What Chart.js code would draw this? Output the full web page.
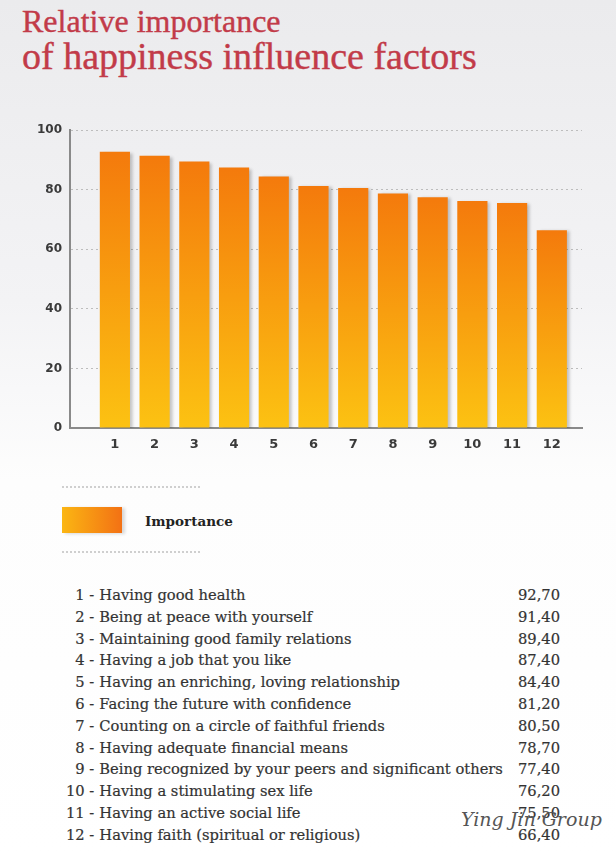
<!DOCTYPE html>
<html>
<head>
<meta charset="utf-8">
<script src="https://cdn.jsdelivr.net/npm/chart.js@4"></script>
<style>
  html, body { margin: 0; padding: 0; }
  body {
    width: 616px; height: 853px; position: relative; overflow: hidden;
    background: linear-gradient(180deg, #ebebed 0px, #f3f3f5 300px, #fdfdfd 480px, #ffffff 853px);
  }
  .title-line {
    position: absolute; left: 22px; margin: 0; white-space: nowrap;
    font-family: "Liberation Serif", "DejaVu Serif", serif; font-weight: normal;
    color: #c23b49; -webkit-text-stroke: 0.4px #c23b49;
  }
  #title1 { top: 2px; font-size: 32px; line-height: 38px; }
  #title2 { top: 34px; font-size: 38px; line-height: 44px; }
  #chart-box { position: absolute; left: 0; top: 110px; width: 616px; height: 350px; }
  .dots { position: absolute; left: 62px; width: 138px; border-top: 2px dotted #cfcfcf; }
  #legend-swatch {
    position: absolute; left: 62px; top: 507px; width: 60px; height: 26px;
    background: linear-gradient(90deg, #fbb613, #f37114);
    box-shadow: 3px 1px 3px rgba(0,0,0,0.15);
  }
  #legend-label {
    position: absolute; left: 145px; top: 513px;
    font-family: "DejaVu Serif", serif; font-weight: bold; font-size: 13.5px; color: #222;
  }
  #factor-table {
    position: absolute; left: 66px; top: 584px; width: 494px; border-collapse: collapse;
    font-family: "DejaVu Serif", "Liberation Serif", serif; font-size: 14.7px; color: #333;
    -webkit-text-stroke: 0.2px #333;
  }
  #factor-table td { padding: 0; height: 21.8px; line-height: 21.8px; white-space: nowrap; }
  #factor-table td.num { text-align: right; width: 27px; }
  #factor-table td.name { padding-left: 5px; }
  #factor-table td.val { text-align: right; width: 46px; }
  #watermark {
    position: absolute; left: 461px; top: 808px;
    font-family: "DejaVu Serif", serif; font-style: italic; font-size: 19px; color: #555;
  }
</style>
</head>
<body>
<h1 class="title-line" id="title1">Relative importance</h1>
<h1 class="title-line" id="title2">of happiness influence factors</h1>
<div id="chart-box"><canvas id="importanceChart"></canvas></div>
<div class="dots" style="top:486px"></div>
<div id="legend-swatch"></div>
<div id="legend-label">Importance</div>
<div class="dots" style="top:551px"></div>
<table id="factor-table"></table>
<div id="watermark">Ying Jin Group</div>

<script>
// --- Data ---
const categories = ['1', '2', '3', '4', '5', '6', '7', '8', '9', '10', '11', '12'];
const importance = [92.7, 91.4, 89.4, 87.4, 84.4, 81.2, 80.5, 78.7, 77.4, 76.2, 75.5, 66.4];
const factorNames = [
  'Having good health',
  'Being at peace with yourself',
  'Maintaining good family relations',
  'Having a job that you like',
  'Having an enriching, loving relationship',
  'Facing the future with confidence',
  'Counting on a circle of faithful friends',
  'Having adequate financial means',
  'Being recognized by your peers and significant others',
  'Having a stimulating sex life',
  'Having an active social life',
  'Having faith (spiritual or religious)'
];
const yTicks = [0, 20, 40, 60, 80, 100];

/* ---------------------- Table ---------------------- */
const table = document.getElementById('factor-table');
categories.forEach((c, i) => {
  const row = table.insertRow();
  const num = row.insertCell();
  num.className = 'num';
  num.textContent = c + ' -';
  const name = row.insertCell();
  name.className = 'name';
  name.textContent = factorNames[i];
  const v = row.insertCell();
  v.className = 'val';
  v.textContent = importance[i].toFixed(2).replace('.', ',');
});

/* ---------------------- Chart ---------------------- */
function barGradient(context) {
  const chart = context.chart;
  const { ctx, chartArea, scales } = chart;
  if (!chartArea || !context.raw) return '#f8960e';
  const top = scales.y.getPixelForValue(context.raw.y);
  const g = ctx.createLinearGradient(0, top, 0, chartArea.bottom);
  g.addColorStop(0, '#f47a0c');
  g.addColorStop(1, '#fcc212');
  return g;
}

// soft shadow to the right of each bar
const barShadow = {
  id: 'barShadow',
  beforeDatasetsDraw(chart) {
    const c = chart.ctx;
    c.save();
    c.shadowColor = 'rgba(0,0,0,0.22)';
    c.shadowOffsetX = 3;
    c.shadowOffsetY = 1;
    c.shadowBlur = 3;
  },
  afterDatasetsDraw(chart) { chart.ctx.restore(); }
};

const tickFont = { family: '"DejaVu Sans", Verdana, sans-serif', size: 12, weight: 'bold' };

new Chart(document.getElementById('importanceChart'), {
  type: 'bar',
  data: {
    datasets: [{
      label: 'Importance',
      data: importance.map((v, i) => ({ x: i + 1, y: v })),
      backgroundColor: barGradient,
      borderWidth: 0,
      categoryPercentage: 0.8,
      barPercentage: 0.95
    }]
  },
  plugins: [barShadow],
  options: {
    responsive: true,
    maintainAspectRatio: false,
    animation: false,
    layout: { padding: { top: 20, right: 34, left: 0, bottom: 0 } },
    plugins: { legend: { display: false }, tooltip: { enabled: false } },
    scales: {
      x: {
        type: 'linear',
        offset: false,
        min: -0.13,
        max: 12.76,
        afterBuildTicks: scale => { scale.ticks = categories.map((c, i) => ({ value: i + 1 })); },
        afterFit: scale => { scale.height = 32; },
        ticks: {
          color: '#3a3a3a', font: { ...tickFont, size: 13 }, padding: 9, autoSkip: false, maxRotation: 0,
          callback: (v, i) => categories[i]
        },
        grid: { display: false, drawTicks: false },
        border: { display: true, color: '#8a8a8a', width: 2 }
      },
      y: {
        min: 0,
        max: 100,
        afterBuildTicks: scale => { scale.ticks = yTicks.map(v => ({ value: v })); },
        afterFit: scale => { scale.width = 70; },
        ticks: { color: '#3a3a3a', font: tickFont, padding: 8 },
        grid: { color: '#bdbdbd', lineWidth: 1, drawTicks: false },
        border: { display: true, color: '#8a8a8a', width: 2, dash: [2, 3] }
      }
    }
  }
});
</script>
</body>
</html>
